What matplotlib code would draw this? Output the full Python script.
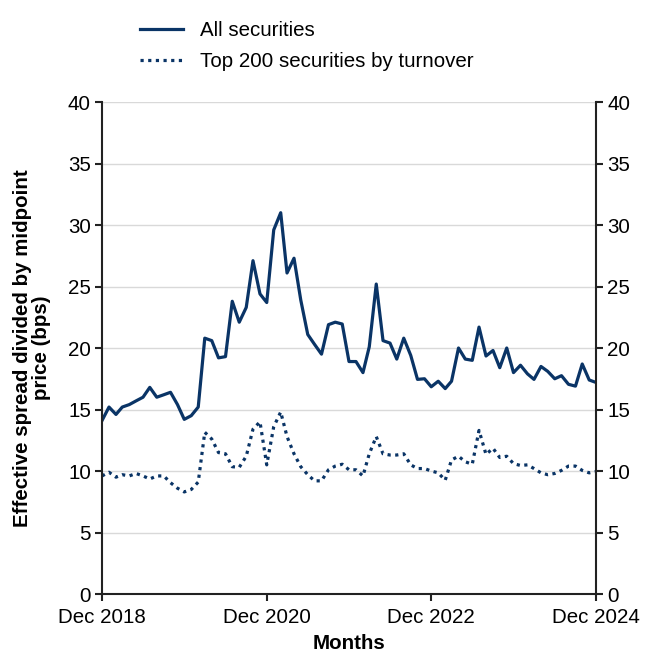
import numpy as np
import pandas as pd
import matplotlib
matplotlib.use("Agg")
import matplotlib.pyplot as plt
import matplotlib.dates as mdates

plt.rcParams['font.family'] = ['Liberation Sans', 'DejaVu Sans']

# Monthly effective spread (bps), Dec 2018 - Dec 2024
months = pd.date_range('2018-12-01', '2024-12-01', freq='MS')

all_securities = [
    14.1, 15.2, 14.6, 15.2, 15.4, 15.7, 16.0, 16.8, 16.0, 16.2,
    16.4, 15.4, 14.2, 14.5, 15.2, 20.8, 20.6, 19.2, 19.3, 23.8,
    22.1, 23.3, 27.1, 24.4, 23.7, 29.6, 31.0, 26.1, 27.3, 23.9,
    21.1, 20.3, 19.5, 21.9, 22.1, 21.95, 18.9, 18.9, 18.0, 20.1,
    25.2, 20.6, 20.4, 19.1, 20.8, 19.4, 17.45, 17.5, 16.85, 17.3,
    16.7, 17.3, 20.0, 19.1, 19.0, 21.7, 19.35, 19.8, 18.4, 20.0,
    18.0, 18.6, 17.9, 17.45, 18.5, 18.1, 17.5, 17.75, 17.05, 16.9,
    18.7, 17.4, 17.2,
]

top_200 = [
    9.6, 9.9, 9.5, 9.7, 9.6, 9.8, 9.6, 9.35, 9.6, 9.6,
    9.05, 8.6, 8.3, 8.5, 9.1, 13.15, 12.6, 11.5, 11.4, 10.35,
    10.3, 11.2, 13.4, 14.0, 10.5, 13.6, 14.8, 12.8, 11.4, 10.35,
    9.7, 9.2, 9.2, 10.1, 10.4, 10.55, 10.1, 10.1, 9.6, 11.4,
    12.8, 11.4, 11.3, 11.3, 11.4, 10.5, 10.2, 10.2, 10.0, 9.85,
    9.25, 10.9, 11.2, 10.75, 10.55, 13.3, 11.35, 11.85, 11.1, 11.2,
    10.6, 10.45, 10.5, 10.2, 9.85, 9.7, 9.8, 10.05, 10.4, 10.4,
    10.05, 9.85, 9.95,
]

xtick_dates = pd.to_datetime(['2018-12-01', '2020-12-01', '2022-12-01', '2024-12-01'])
yticks = np.arange(0, 41, 5)

navy = '#0a3466'
fs = 14.8

fig = plt.figure(figsize=(6.56, 6.69), dpi=100)
ax = fig.add_axes([0.1555, 0.1121, 0.753, 0.7354])

ax.plot(months, all_securities, color=navy, lw=2.3, label='All securities')
ax.plot(months, top_200, color=navy, lw=2.3, linestyle=(0, (1, 1.4)),
        label='Top 200 securities by turnover')

ax.set_xlim(months[0], months[-1])
ax.set_ylim(0, 40)
ax.set_yticks(yticks)
ax.set_xticks(xtick_dates)
ax.xaxis.set_major_formatter(mdates.DateFormatter('%b %Y'))

ax.grid(axis='y', color='#d9d9d9', lw=1.0)
ax.set_axisbelow(True)

for side in ['left', 'right', 'bottom']:
    ax.spines[side].set_color('#222222')
    ax.spines[side].set_linewidth(1.5)
ax.spines['top'].set_visible(False)

ax.tick_params(axis='y', which='both', left=True, right=True, labelleft=True,
               labelright=True, direction='out', length=5, width=1.5,
               color='#222222', labelsize=fs, pad=3)
ax.tick_params(axis='x', direction='out', length=5, width=1.5,
               color='#222222', labelsize=fs, pad=5)

ax.set_xlabel('Months', fontsize=fs, fontweight='bold', labelpad=5)
ax.set_ylabel('Effective spread divided by midpoint\nprice (bps)',
              fontsize=fs, fontweight='bold', labelpad=12, linespacing=1.0)

fig.legend(loc='upper left', bbox_to_anchor=(0.2134, 0.969), frameon=False,
           fontsize=fs, handlelength=2.1, handletextpad=0.83,
           labelspacing=0.6, borderpad=0, borderaxespad=0)

fig.savefig('out.png', dpi=100)
